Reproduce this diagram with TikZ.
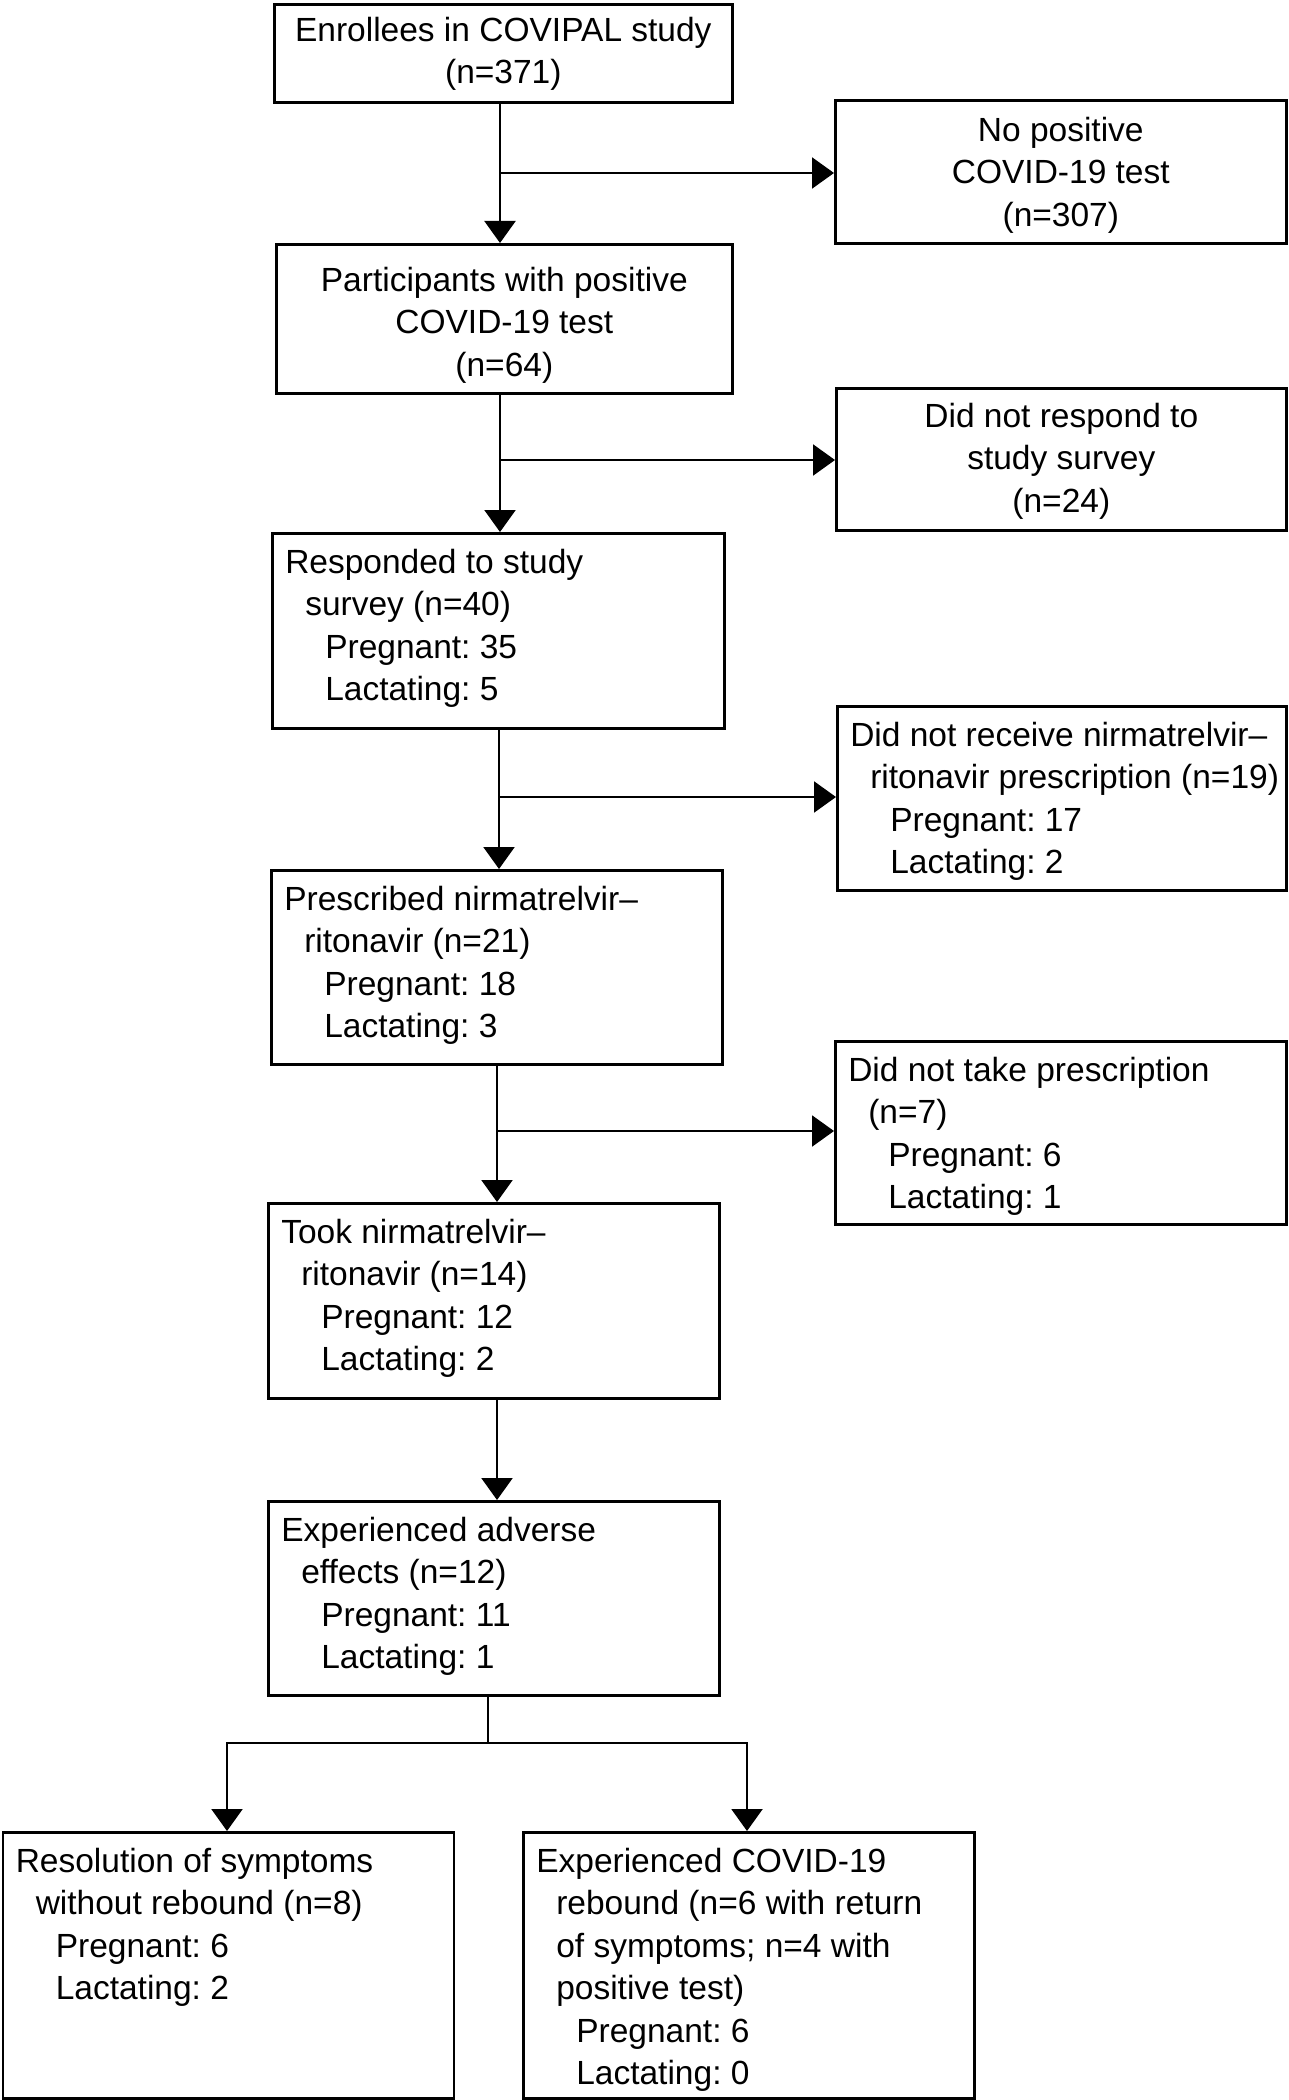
\documentclass[tikz,border=0pt]{standalone}
\usepackage{fontspec}
\setmainfont{Liberation Sans}
\usetikzlibrary{arrows.meta,calc}
\frenchspacing

\newcommand\cbx[4]{\begin{minipage}[c][#2pt][c]{#1pt}\fontsize{33.5}{42.5}\selectfont\frenchspacing\centering\vspace*{#4pt}#3\end{minipage}}
\newcommand\lbx[3]{\begin{minipage}[c][#2pt][t]{#1pt}\fontsize{33.5}{42.5}\selectfont\frenchspacing\raggedright\vspace*{10pt}\leftskip=13pt\relax\leavevmode\strut #3\end{minipage}}
\newcommand\ia{\hspace*{20pt}}
\newcommand\ib{\hspace*{40pt}}

\tikzset{
  x=1pt, y=-1pt,
  box/.style={draw, line width=2.6pt, inner sep=0pt, anchor=north west},
  conn/.style={line width=2.2pt},
  arr/.style={line width=2.2pt, -{Triangle[length=22pt,width=31pt]}},
}

\begin{document}
\begin{tikzpicture}
\useasboundingbox (0,0) rectangle (1289,2100);

% main column
\node[box] (b1) at (273,3) {\cbx{458}{98}{Enrollees in COVIPAL study\\(n=371)}{1}};
\node[box] (b2) at (275,243) {\cbx{456}{149}{Participants with positive\\COVID-19 test\\(n=64)}{13}};
\node[box] (b3) at (271,532) {\lbx{452}{195}{Responded to study\\\ia survey (n=40)\\\ib Pregnant: 35\\\ib Lactating: 5}};
\node[box] (b4) at (270,869) {\lbx{451}{194}{Prescribed nirmatrelvir–\\\ia ritonavir (n=21)\\\ib Pregnant: 18\\\ib Lactating: 3}};
\node[box] (b5) at (267,1202) {\lbx{451}{195}{Took nirmatrelvir–\\\ia ritonavir (n=14)\\\ib Pregnant: 12\\\ib Lactating: 2}};
\node[box] (b6) at (267,1500) {\lbx{451}{194}{Experienced adverse\\\ia effects (n=12)\\\ib Pregnant: 11\\\ib Lactating: 1}};
\node[box] (b7) at (1.5,1831) {\lbx{451}{266}{Resolution of symptoms\\\ia without rebound (n=8)\\\ib Pregnant: 6\\\ib Lactating: 2}};
\node[box] (b8) at (522,1831) {\lbx{451}{266}{Experienced COVID-19\\\ia rebound (n=6 with return\\\ia of symptoms; n=4 with\\\ia positive test)\\\ib Pregnant: 6\\\ib Lactating: 0}};

% side column
\node[box] (n1) at (834,99) {\cbx{451}{143}{No positive\\COVID-19 test\\(n=307)}{7}};
\node[box] (n2) at (835,387) {\cbx{450}{142}{Did not respond to\\study survey\\(n=24)}{4}};
\node[box] (n3) at (836,705) {\lbx{449}{184}{Did not receive nirmatrelvir–\\\ia ritonavir prescription (n=19)\\\ib Pregnant: 17\\\ib Lactating: 2}};
\node[box] (n4) at (834,1040) {\lbx{451}{183}{Did not take prescription\\\ia (n=7)\\\ib Pregnant: 6\\\ib Lactating: 1}};

% junctions
\coordinate (j1) at (500,173);
\coordinate (j2) at (500,460);
\coordinate (j3) at (499,797);
\coordinate (j4) at (497,1131);
\coordinate (j5) at (497,1450);
\coordinate (j6) at (488,1743);
\coordinate (l7) at (227,1743);
\coordinate (r8) at (747,1743);

\draw[arr] (b1.south -| j1) -- (b2.north -| j1);
\draw[arr] (j1) -- (n1.west |- j1);
\draw[arr] (b2.south -| j2) -- (b3.north -| j2);
\draw[arr] (j2) -- (n2.west |- j2);
\draw[arr] (b3.south -| j3) -- (b4.north -| j3);
\draw[arr] (j3) -- (n3.west |- j3);
\draw[arr] (b4.south -| j4) -- (b5.north -| j4);
\draw[arr] (j4) -- (n4.west |- j4);
\draw[arr] (b5.south -| j5) -- (b6.north -| j5);
\draw[conn] (b6.south -| j6) -- (j6);
\draw[arr] (j6) -- (l7) -- (b7.north -| l7);
\draw[arr] (j6) -- (r8) -- (b8.north -| r8);
\end{tikzpicture}
\end{document}
